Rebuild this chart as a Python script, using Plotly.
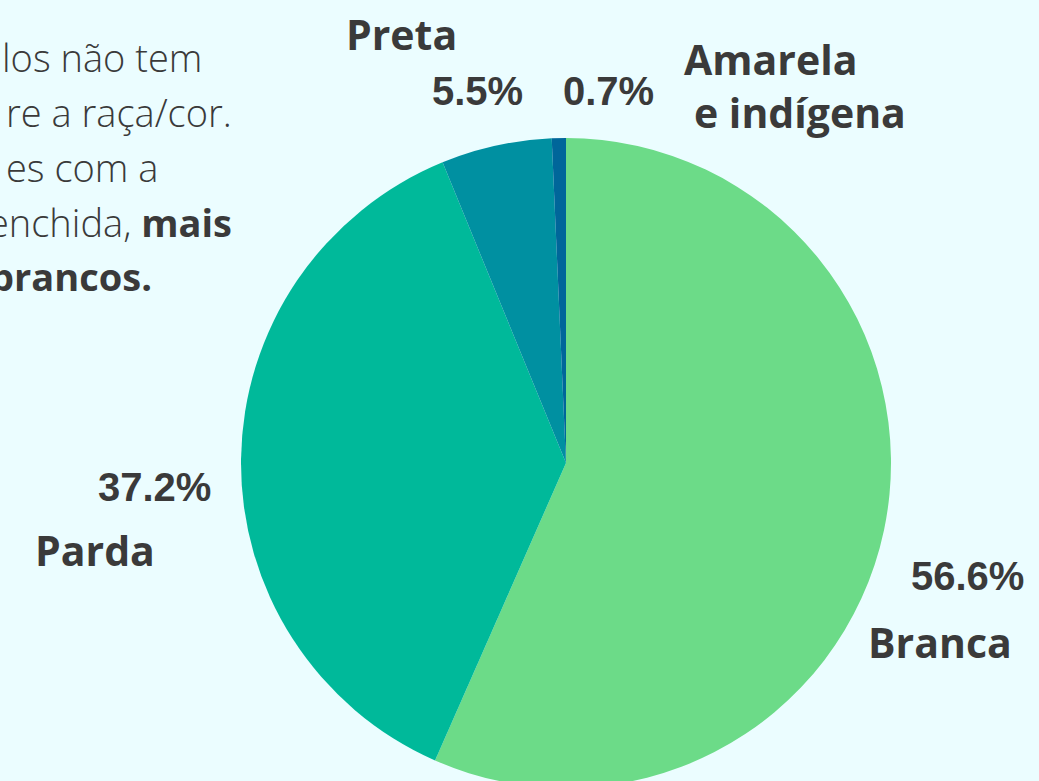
import plotly.graph_objects as go

# ---- data ----
categories = ["Branca", "Parda", "Preta", "Amarela e indígena"]
values = [56.6, 37.2, 5.5, 0.7]
pct_labels = ["56.6%", "37.2%", "5.5%", "0.7%"]
colors = ["#6CDB88", "#00B99A", "#0090A1", "#00669A"]
body_lines = [
    "los não tem",
    "re a raça/cor.",
    "es com a",
    "enchida, <b>mais</b>",
    "<b>brancos.</b>",
]

W, H = 1039, 790
BG = "#EBFDFF"
TXT = "#3A3A3A"


def px(x):
    return x / W


def py(y):
    return 1 - y / H


fig = go.Figure(
    go.Pie(
        labels=categories,
        values=values,
        sort=False,
        direction="clockwise",
        rotation=0,
        marker=dict(colors=colors, line=dict(width=0)),
        textinfo="none",
        hoverinfo="label+percent",
        showlegend=False,
        domain=dict(x=[px(241), px(891)], y=[py(788), py(138)]),
    )
)

ann = []
name_font = dict(family="Open Sans", size=41, color=TXT, weight="bold")
pct_font = dict(family="Liberation Sans, Arial", size=40, color=TXT, weight="bold")

# names
ann.append(dict(text=categories[2], x=px(401), y=py(34), xanchor="center", yanchor="middle", font=name_font))
ann.append(dict(text="Amarela", x=px(682), y=py(59), xanchor="left", yanchor="middle", font=name_font))
ann.append(dict(text="e indígena", x=px(692), y=py(112), xanchor="left", yanchor="middle", font=name_font))
ann.append(dict(text=categories[1], x=px(95), y=py(550), xanchor="center", yanchor="middle", font=name_font))
ann.append(dict(text=categories[0], x=px(940), y=py(642), xanchor="center", yanchor="middle", font=name_font))

# percentages
ann.append(dict(text=pct_labels[2], x=px(477), y=py(91), xanchor="center", yanchor="middle", font=pct_font))
ann.append(dict(text=pct_labels[3], x=px(608), y=py(91), xanchor="center", yanchor="middle", font=pct_font))
ann.append(dict(text=pct_labels[1], x=px(154), y=py(487), xanchor="center", yanchor="middle", font=pct_font))
ann.append(dict(text=pct_labels[0], x=px(967), y=py(576), xanchor="center", yanchor="middle", font=pct_font))

# body text (cut off at left edge, as in the original)
body_font = dict(family="Open Sans", size=38, color=TXT, weight=300)
rights = [204, 234, 160, 234, 154]
ys = [57, 112, 167, 222, 276]
for t, r, y in zip(body_lines, rights, ys):
    ann.append(dict(text=t, x=px(r), y=py(y), xanchor="right", yanchor="middle", font=body_font))

for a in ann:
    a.update(xref="paper", yref="paper", showarrow=False)

fig.update_layout(
    width=W,
    height=H,
    margin=dict(l=0, r=0, t=0, b=0),
    paper_bgcolor=BG,
    plot_bgcolor=BG,
    annotations=ann,
)

fig.write_html(
    "out.html",
    config={"displayModeBar": False},
    post_script="document.body.style.margin='0';document.body.style.overflow='hidden';document.documentElement.style.overflow='hidden';document.body.style.background='" + BG + "';",
)
